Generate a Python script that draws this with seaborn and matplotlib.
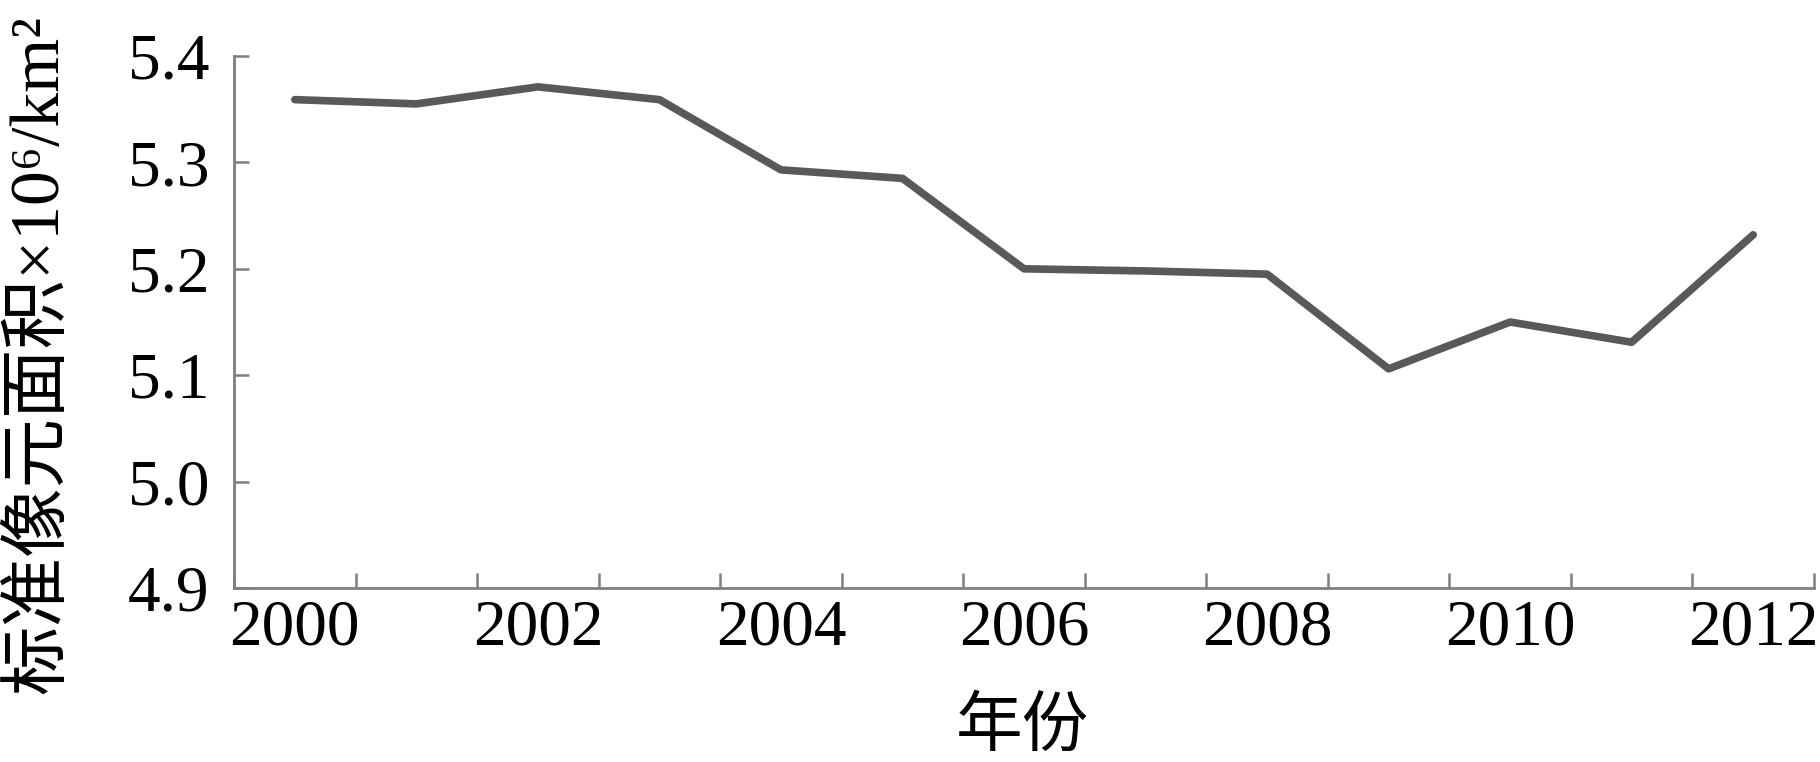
import numpy as np
import matplotlib
matplotlib.use("Agg")
import matplotlib.pyplot as plt
import seaborn as sns
import pandas as pd

# data
years = [2000, 2001, 2002, 2003, 2004, 2005, 2006, 2007, 2008, 2009, 2010, 2011, 2012]
area = [5.359, 5.355, 5.371, 5.359, 5.293, 5.285, 5.200, 5.198, 5.195, 5.106, 5.150, 5.131, 5.232]
label_years = [2000, 2002, 2004, 2006, 2008, 2010, 2012]
y_ticks = [4.9, 5.0, 5.1, 5.2, 5.3, 5.4]

sns.set_style("white")
fonts = ['Liberation Serif', 'Noto Sans CJK SC', 'DejaVu Serif']
plt.rcParams['font.family'] = fonts
plt.rcParams['text.color'] = 'black'
plt.rcParams['xtick.color'] = 'black'
plt.rcParams['ytick.color'] = 'black'

df = pd.DataFrame({"year": years, "area": area})

fig = plt.figure(figsize=(18.2, 7.62), dpi=100)
ax = fig.add_axes([0.1286, 0.2283, 0.8681, 0.6982])

sns.lineplot(data=df, x="year", y="area", ax=ax, color="#595959", linewidth=5.5)

ax.set_xlim(years[0] - 0.5, years[-1] + 0.5)
ax.set_ylim(4.9, 5.4)

# category boundaries as tick marks, labels at every other category centre
ax.set_xticks(np.arange(years[0] - 0.5, years[-1] + 1.0, 1.0))
ax.set_xticklabels([])
ax.set_xticks(label_years, minor=True)
ax.set_xticklabels([str(y) for y in label_years], minor=True)
ax.tick_params(axis='x', which='major', bottom=True, direction='in', length=11,
               width=1.8, color='#7f7f7f')
ax.tick_params(axis='x', which='minor', bottom=True, length=0, pad=8, labelsize=47,
               labelcolor='black')

ax.set_yticks(y_ticks)
ax.set_yticklabels([f"{v:.1f}" for v in y_ticks])
ax.tick_params(axis='y', left=True, direction='in', length=11, width=1.8, color='#7f7f7f',
               pad=18, labelsize=47, labelcolor='black')

for s in ['top', 'right']:
    ax.spines[s].set_visible(False)
for s in ['left', 'bottom']:
    ax.spines[s].set_color('#7f7f7f')
    ax.spines[s].set_linewidth(2)

ax.set_xlabel("")
ax.set_ylabel("")
fig.text(0.022, 0.535, "标准像元面积×10⁶/km²", rotation=90, fontsize=50,
         family=fonts, ha='center', va='center', color='black')
fig.text(0.5615, 0.043, "年份", fontsize=48, family=fonts, ha='center', va='center',
         color='black')

fig.savefig("out.png", dpi=100)
